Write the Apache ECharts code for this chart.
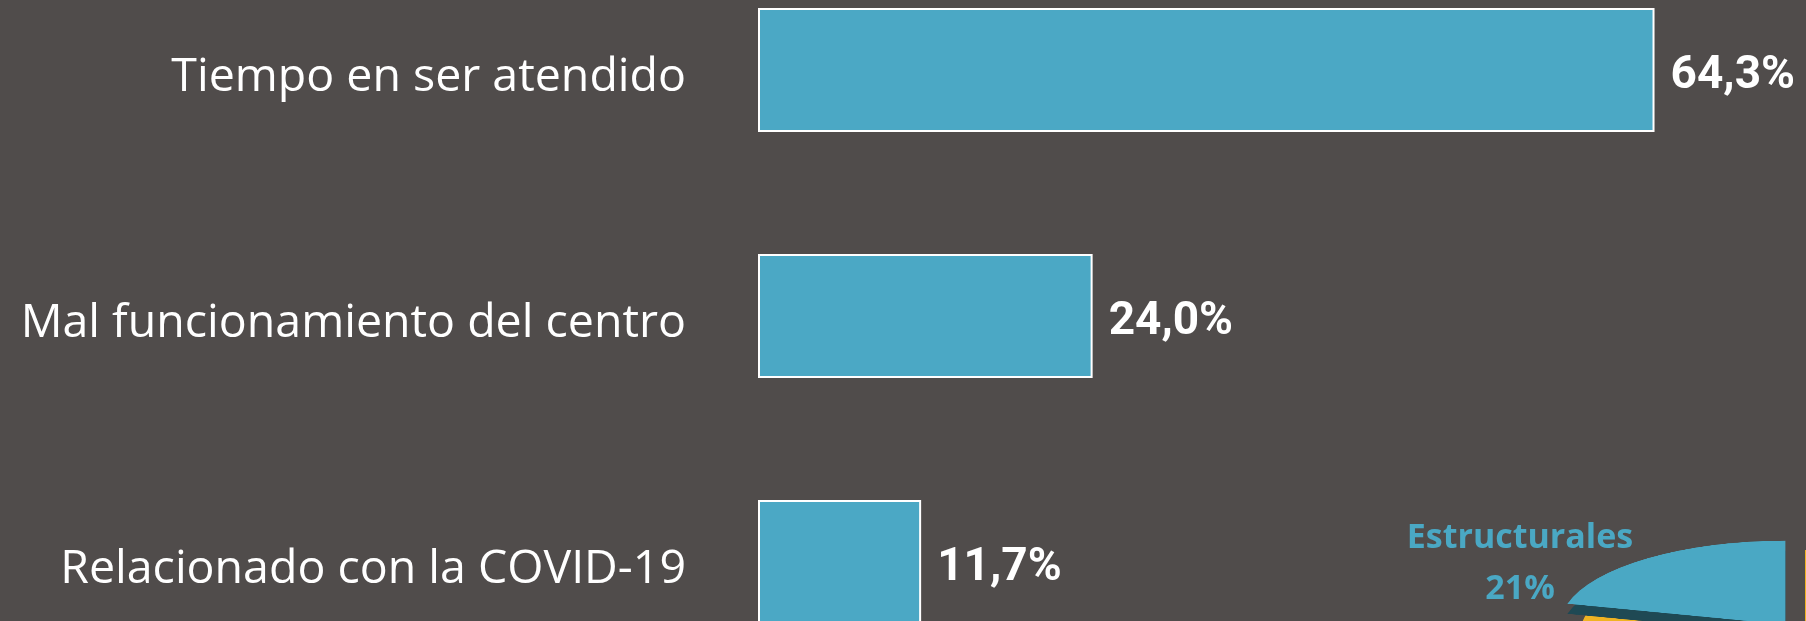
<!DOCTYPE html>
<html>
<head>
<meta charset="utf-8">
<title>Motivos de queja</title>
<script src="https://cdn.jsdelivr.net/npm/echarts@6/dist/echarts.min.js"></script>
<style>
  html, body { margin: 0; padding: 0; background: #504c4b; overflow: hidden; width: 1806px; height: 621px; }
  /* chart is taller than the window: the last bar runs off the bottom */
  #main { position: absolute; left: 0; top: -53px; width: 1806px; height: 738px; }
  /* pie is drawn flat, then squashed to look tilted */
  #pie { position: absolute; left: 1505px; top: 334px; width: 600px; height: 600px;
         transform: scaleY(0.373); transform-origin: 50% 50%; }
</style>
</head>
<body>
<div id="main"></div>
<div id="pie"></div>
<script>
const categories = ['Tiempo en ser atendido', 'Mal funcionamiento del centro', 'Relacionado con la COVID-19'];
const values = [64.3, 24.0, 11.7];

const pieNames = ['Estructurales', 'Otros'];
const pieValues = [21, 79];

(function () {
  var chartDom = document.getElementById('main');
  var myChart = echarts.init(chartDom);
  var option;

  option = {
    backgroundColor: '#504c4b',
    animation: false,
    grid: {
      top: 0,
      bottom: 0,
      left: 758,
      right: 72
    },
    xAxis: {
      type: 'value',
      min: 0,
      max: 70,
      show: false,
      splitLine: { show: false }
    },
    yAxis: {
      type: 'category',
      inverse: true,
      data: categories,
      axisLine: { show: false },
      axisTick: { show: false },
      axisLabel: {
        margin: 72,
        color: '#ffffff',
        fontSize: 46.5,
        fontFamily: 'Open Sans',
        verticalAlign: 'top', // with a small lineHeight this pushes text ~8px down
        lineHeight: 16
      }
    },
    graphic: [
      {
        type: 'text',
        style: {
          text: pieNames[0] + '\n' + pieValues[0] + '%',
          x: 1520,
          y: 566,
          textAlign: 'center',
          fill: '#4aa8c4',
          fontSize: 34,
          fontWeight: 'bold',
          fontFamily: 'Open Sans',
          lineHeight: 51
        }
      }
    ],
    series: [
      {
        type: 'bar',
        data: values,
        barWidth: 124,
        itemStyle: {
          color: '#4ba8c5',
          borderColor: '#ffffff',
          borderWidth: 2
        },
        label: {
          show: true,
          position: 'right',
          distance: 16,
          offset: [0, 6],
          color: '#ffffff',
          fontSize: 46,
          fontWeight: 'bold',
          fontFamily: 'Roboto'
        },
        silent: true
      }
    ]
  };
  option.series[0].label.formatter = function (p) {
    return p.value.toFixed(1).replace('.', ',') + '%';
  };
  option && myChart.setOption(option);

  // little 3D pie in the corner
  var pieChart = echarts.init(document.getElementById('pie'));
  var topColors = ['#4aa8c4', '#f0b323'];
  var sideColors = ['#1f4954', '#8a6a12'];
  function pieData(colors) {
    return pieValues.map(function (v, i) {
      return { name: pieNames[i], value: v, selected: i === 0, itemStyle: { color: colors[i] } };
    });
  }
  var pieBase = {
    type: 'pie',
    radius: 225,
    startAngle: 90,
    clockwise: false,
    selectedMode: 'single',
    selectedOffset: 32,
    label: { show: false },
    labelLine: { show: false },
    silent: true,
    itemStyle: { borderWidth: 0 }
  };
  pieChart.setOption({
    animation: false,
    series: [
      Object.assign({}, pieBase, { center: [300, 327], data: pieData(sideColors) }),
      Object.assign({}, pieBase, { center: [300, 300], data: pieData(topColors) })
    ]
  });

  window.addEventListener('resize', function () {
    myChart.resize();
    pieChart.resize();
  });
})();
</script>
</body>
</html>
